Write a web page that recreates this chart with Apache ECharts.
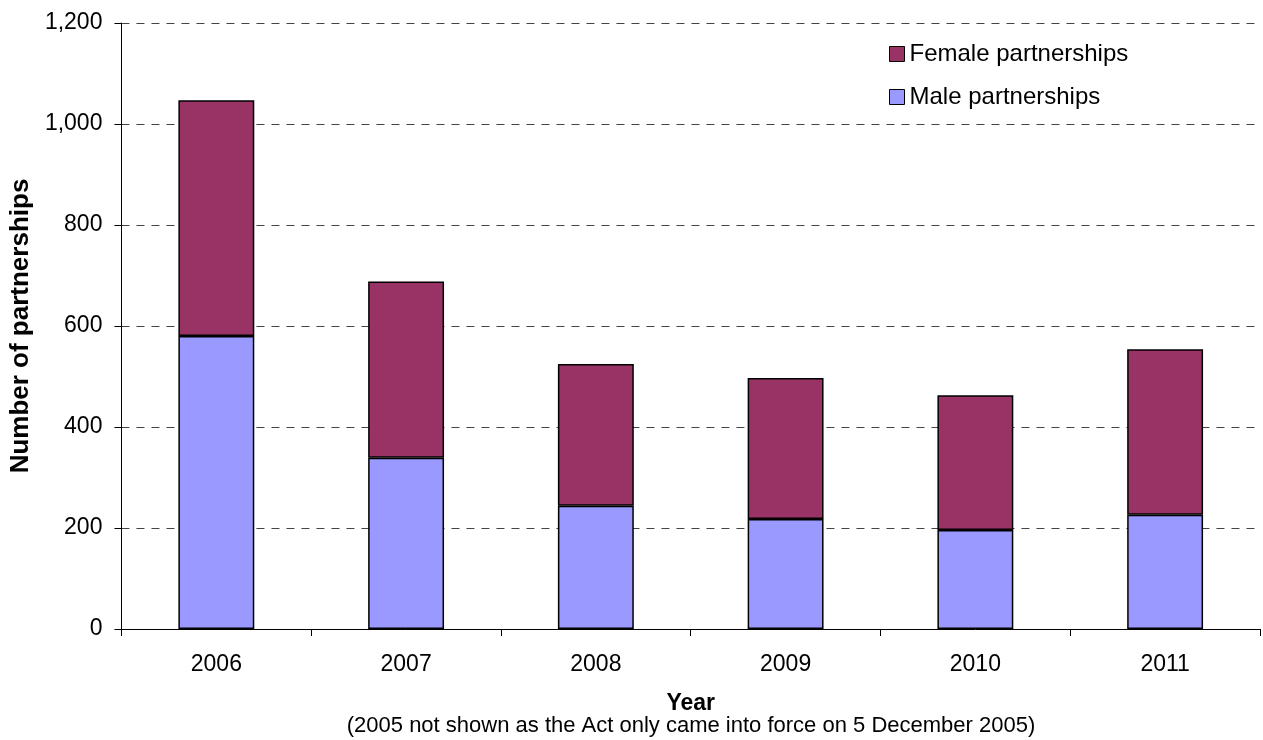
<!DOCTYPE html>
<html>
<head>
<meta charset="utf-8">
<script src="https://cdn.jsdelivr.net/npm/echarts@6/dist/echarts.min.js"></script>
<style>
  html, body { margin: 0; padding: 0; background: #fff; }
  #chart { width: 1263px; height: 740px; }
</style>
</head>
<body>
<div id="chart"></div>
<script>
// Civil partnerships by year, split by sex of couple
const years = ['2006', '2007', '2008', '2009', '2010', '2011'];
const malePartnerships = [580, 339, 244, 218, 196, 226];
const femalePartnerships = [467, 349, 281, 279, 267, 328];
const yTicks = [0, 200, 400, 600, 800, 1000, 1200];

const FONT = 'Liberation Sans, Arial, sans-serif';

const chart = echarts.init(document.getElementById('chart'), null, { renderer: 'canvas' });

chart.setOption({
  animation: false,
  backgroundColor: '#ffffff',
  textStyle: { fontFamily: FONT, color: '#000' },
  title: {
    text: '(2005 not shown as the Act only came into force on 5 December 2005)',
    left: 691,
    textAlign: 'center',
    top: 715,
    padding: 0,
    textStyle: { fontFamily: FONT, fontSize: 22, fontWeight: 'normal', color: '#000' }
  },
  legend: {
    data: ['Female partnerships', 'Male partnerships'],
    orient: 'vertical',
    left: 889,
    top: 42,
    padding: 0,
    itemWidth: 15,
    itemHeight: 15,
    itemGap: 19,
    icon: 'rect',
    itemStyle: { borderColor: '#000', borderWidth: 1 },
    textStyle: { fontFamily: FONT, fontSize: 24, color: '#000' }
  },
  grid: { left: 120, right: 3, top: 23, bottom: 111, containLabel: false },
  xAxis: {
    type: 'category',
    data: years,
    name: 'Year',
    nameLocation: 'middle',
    nameGap: 63,
    nameTextStyle: { fontFamily: FONT, fontSize: 23, fontWeight: 'bold', color: '#000' },
    axisLine: { lineStyle: { color: '#000', width: 1 } },
    axisTick: { show: true, alignWithLabel: false, length: 7, lineStyle: { color: '#000' } },
    axisLabel: { fontFamily: FONT, fontSize: 23, color: '#000', margin: 24 },
    splitLine: { show: false }
  },
  yAxis: {
    type: 'value',
    min: yTicks[0],
    max: yTicks[yTicks.length - 1],
    interval: 200,
    name: 'Number of partnerships',
    nameLocation: 'middle',
    nameGap: 87,
    nameRotate: 90,
    nameTextStyle: { fontFamily: FONT, fontSize: 26, fontWeight: 'bold', color: '#000' },
    axisLine: { show: true, lineStyle: { color: '#000', width: 1 } },
    axisTick: { show: true, length: 7, lineStyle: { color: '#000' } },
    axisLabel: {
      fontFamily: FONT, fontSize: 23, color: '#000', margin: 19,
      formatter: v => v.toLocaleString('en-GB')
    },
    splitLine: { show: true, lineStyle: { color: '#444', type: [8, 7], width: 1 } }
  },
  series: [
    {
      name: 'Male partnerships',
      type: 'bar',
      stack: 'total',
      barWidth: '40%',
      data: malePartnerships,
      itemStyle: { color: '#9999FF', borderColor: '#000', borderWidth: 1.5 }
    },
    {
      name: 'Female partnerships',
      type: 'bar',
      stack: 'total',
      barWidth: '40%',
      data: femalePartnerships,
      itemStyle: { color: '#993366', borderColor: '#000', borderWidth: 1.5 }
    }
  ]
});
</script>
</body>
</html>
